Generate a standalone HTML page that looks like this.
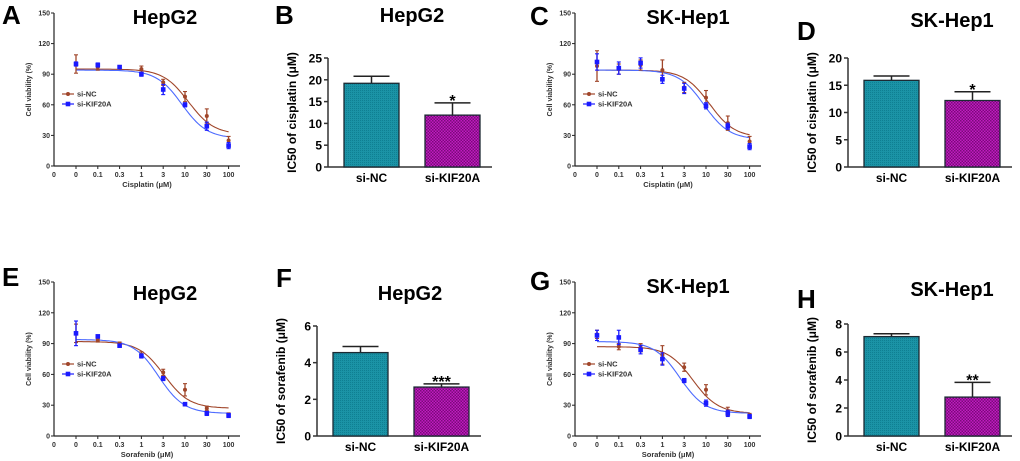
<!DOCTYPE html>
<html><head><meta charset="utf-8"><style>
html,body{margin:0;padding:0;background:#fff;}
svg{display:block;font-family:"Liberation Sans",Arial,sans-serif;}
</style></head><body>
<svg id="fig" width="1020" height="461" viewBox="0 0 1020 461" xmlns="http://www.w3.org/2000/svg">
<defs>
<pattern id="pTeal" width="2" height="2" patternUnits="userSpaceOnUse"><rect width="2" height="2" fill="#1b93a6"/><rect width="1" height="1" fill="#0f7f92"/></pattern>
<pattern id="pMag" width="3" height="3" patternUnits="userSpaceOnUse"><rect width="3" height="3" fill="#c01cc0"/><rect width="1.5" height="1.5" fill="#7a0a7a"/><rect x="1.5" y="1.5" width="1.5" height="1.5" fill="#7a0a7a"/></pattern>
</defs>
</svg>
<script>
// ---- data ----
const concLabels = ["0","0.1","0.3","1","3","10","30","100"];
const concValues = [0,0.1,0.3,1,3,10,30,100];
const viabTicks = [0,30,60,90,120,150];
const groups = ["si-NC","si-KIF20A"];

const A_nc = [100,97,97,95,82,68,49,25];
const A_nc_err = [9,3,1.5,3,3,5,7,4];
const A_kif = [100,99,97,90,75,60,39,20];
const A_kif_err = [2,2,1.5,2,5,2,4,3];
const A_fitNC = [95,31,12];   // top, bottom, IC50
const A_fitKIF = [94,27,8.5];

const C_nc = [98,95,99,94,77,67,42,24];
const C_nc_err = [15,5,5,10,5,7,7,5];
const C_kif = [102,96,101,85,76,59,39,19];
const C_kif_err = [8,6,5,4,5,3,3,3];
const C_fitNC = [94,28,12];
const C_fitKIF = [94,26,9];

const E_nc = [100,93,90,79,62,45,27,21];
const E_nc_err = [9,1.5,1.5,3,3,6,2,1.5];
const E_kif = [100,97,88,78,56,31,22,20];
const E_kif_err = [12,1.5,1.5,2,2,1.5,2,2];
const E_fitNC = [92,27,3.3];
const E_fitKIF = [94,22,2.5];

const G_nc = [99,87,86,79,67,45,24,20];
const G_nc_err = [4,3,4,9,4,5,4,2];
const G_kif = [98,96,84,75,54,32,22,19];
const G_kif_err = [5,7,4,6,2,3,3,2];
const G_fitNC = [87,22,5];
const G_fitKIF = [92,22,2.5];

const B_vals = [19.2,11.9]; const B_err = [1.6,2.8]; const B_ticks = [0,5,10,15,20,25]; const B_sig = "*";
const D_vals = [15.9,12.2]; const D_err = [0.8,1.6]; const D_ticks = [0,5,10,15,20]; const D_sig = "*";
const F_vals = [4.55,2.67]; const F_err = [0.33,0.17]; const F_ticks = [0,2,4,6]; const F_sig = "***";
const H_vals = [7.1,2.78]; const H_err = [0.2,1.05]; const H_ticks = [0,2,4,6,8]; const H_sig = "**";

const svg = document.getElementById('fig');
const NS = "http://www.w3.org/2000/svg";
function mk(tag, attrs, parent){
  const e = document.createElementNS(NS, tag);
  for (const k in attrs) e.setAttribute(k, attrs[k]);
  (parent||svg).appendChild(e);
  return e;
}
function txt(x,y,s,size,opts,parent){
  const o = Object.assign({x:x,y:y,'font-size':size,'font-weight':'bold',fill:'#000','text-anchor':'middle'},opts||{});
  const t = mk('text',o,parent); t.textContent = s; return t;
}

function curvePanel(p){
  const g = mk('g',{});
  
  
  const x0 = p.ax, yTop = p.top, yBot = p.bot;
  const step = 21.8;
  const firstX = x0 + 22;
  function xs(c){ const l = c<=0 ? -1.5 : Math.log10(c); return firstX + (l+1.5)*2*step; }
  function xi(i){ return firstX + i*step; }
  function ys(v){ return yBot - (v/150)*(yBot-yTop); }
  const endX = x0 + 186;
  const ya = mk('line',{x1:x0,y1:yTop,x2:x0,y2:yBot,stroke:'#222','stroke-width':1.2},g);
  
  
  const xa = mk('line',{x1:x0,y1:yBot,x2:endX,y2:yBot,stroke:'#222','stroke-width':1.2},g);
  
  
  viabTicks.forEach(v=>{
    mk('line',{x1:x0-3,y1:ys(v),x2:x0,y2:ys(v),stroke:'#222','stroke-width':1},g);
    const t = txt(x0-4,ys(v)+2.5,String(v),7,{'text-anchor':'end',fill:'#333'},g);
    
    
  });
  const t0 = txt(x0,yBot+11,"0",7,{fill:'#333'},g);
  
  
  concLabels.forEach((l,i)=>{
    mk('line',{x1:xi(i),y1:yBot,x2:xi(i),y2:yBot+3,stroke:'#222','stroke-width':1},g);
    const t = txt(xi(i),yBot+11,l,7,{fill:'#333'},g);
    
    
  });
  const xl = txt((x0+endX)/2,yBot+21,p.xlabel,7.5,{fill:'#333'},g);
  
  
  const yl = txt(0,0,"Cell viability (%)",7,{fill:'#333',transform:`translate(${x0-23},${(yTop+yBot)/2}) rotate(-90)`},g);
  
  
  const title = txt(p.tx,p.ty,p.title,20,{},g);
  
  
  const letter = txt(p.lx,p.ly,p.letter,26,{'text-anchor':'start'},g);
  
  
  const series = [
    {vals:p.nc, err:p.ncErr, fit:p.fitNC, col:'#a0462a', line:'#a0462a', name:'si-nc'},
    {vals:p.kif, err:p.kifErr, fit:p.fitKIF, col:'#1a1aff', line:'#4d6bff', name:'si-kif20a'}
  ];
  series.forEach(s=>{
    const pts=[];
    for(let k=0;k<=80;k++){
      const l = -1.5 + k*(3.5/80); const c = Math.pow(10,l);
      const v = s.fit[1] + (s.fit[0]-s.fit[1])/(1+Math.pow(c/s.fit[2],1.5));
      pts.push(xs(c).toFixed(1)+','+ys(v).toFixed(1));
    }
    const pl = mk('polyline',{points:pts.join(' '),fill:'none',stroke:s.line,'stroke-width':1.1},g);
    
    
  });
  series.forEach(s=>{
    s.vals.forEach((v,i)=>{
      const x = xi(i), e = s.err[i];
      mk('line',{x1:x,y1:ys(v+e),x2:x,y2:ys(v-e),stroke:s.col,'stroke-width':1.3},g);
      mk('line',{x1:x-2,y1:ys(v+e),x2:x+2,y2:ys(v+e),stroke:s.col,'stroke-width':1.1},g);
      mk('line',{x1:x-2,y1:ys(v-e),x2:x+2,y2:ys(v-e),stroke:s.col,'stroke-width':1.1},g);
      const pt = s.name==='si-nc' ? mk('circle',{cx:x,cy:ys(v),r:2,fill:s.col},g)
                                   : mk('rect',{x:x-2.3,y:ys(v)-2.3,width:4.6,height:4.6,fill:s.col},g);
      
      
    });
  });
  series.forEach((s,i)=>{
    const ly = p.legY + i*10;
    const lg = mk('g',{},g);
    
    
    mk('line',{x1:x0+8,y1:ly,x2:x0+20,y2:ly,stroke:s.col,'stroke-width':1.2},lg);
    if(i===0) mk('circle',{cx:x0+14,cy:ly,r:2,fill:s.col},lg);
    else mk('rect',{x:x0+11.7,y:ly-2.3,width:4.6,height:4.6,fill:s.col},lg);
    txt(x0+23,ly+2.5,groups[i],7.5,{'text-anchor':'start',fill:'#333'},lg);
  });
}

function barPanel(p){
  const g = mk('g',{});
  
  
  const x0=p.ax, yTop=p.top, yBot=p.bot, max=p.ticks[p.ticks.length-1];
  function ys(v){ return yBot - (v/max)*(yBot-yTop); }
  const endX = x0+164;
  const ya = mk('line',{x1:x0,y1:yTop,x2:x0,y2:yBot,stroke:'#333','stroke-width':1.5},g);
  
  
  const xa = mk('line',{x1:x0,y1:yBot,x2:endX,y2:yBot,stroke:'#333','stroke-width':1.5},g);
  
  
  p.ticks.forEach(v=>{
    mk('line',{x1:x0-4,y1:ys(v),x2:x0,y2:ys(v),stroke:'#333','stroke-width':1.5},g);
    const t = txt(x0-6,ys(v)+4.5,String(v),12,{'text-anchor':'end'},g);
    
    
  });
  const yl = txt(0,0,p.ylabel,12,{transform:`translate(${x0-32},${(yTop+yBot)/2}) rotate(-90)`},g);
  
  
  const title = txt(p.tx,p.ty,p.title,20,{},g);
  
  
  const letter = txt(p.lx,p.ly,p.letter,26,{'text-anchor':'start'},g);
  
  
  const fills=['url(#pTeal)','url(#pMag)'];
  p.vals.forEach((v,i)=>{
    const bx = x0+16+i*81, bw=55, cx=bx+bw/2;
    const top = ys(v), et = ys(v+p.err[i]);
    mk('line',{x1:cx,y1:et,x2:cx,y2:top,stroke:'#222','stroke-width':1.5},g);
    mk('line',{x1:cx,y1:et,x2:cx+18,y2:et,stroke:'#222','stroke-width':1.5},g);
    mk('line',{x1:cx,y1:et,x2:cx-18,y2:et,stroke:'#222','stroke-width':1.5},g);
    const b = mk('rect',{x:bx,y:top,width:bw,height:yBot-top,fill:fills[i],stroke:'#1c2a33','stroke-width':1.3},g);
    
    
    const xl = txt(cx,yBot+15,groups[i],12,{},g);
    
    
    if(i===1){
      const s = txt(cx,et+3,p.sig,16,{},g);
      
      
    }
  });
}

curvePanel({name:'panel-a-chart',ax:54,top:13,bot:166,xlabel:'Cisplatin (\u03bcM)',title:'HepG2',tx:165,ty:24,letter:'A',lx:2,ly:24,legY:94,
  nc:A_nc,ncErr:A_nc_err,kif:A_kif,kifErr:A_kif_err,fitNC:A_fitNC,fitKIF:A_fitKIF});
curvePanel({name:'panel-c-chart',ax:575,top:13,bot:166,xlabel:'Cisplatin (\u03bcM)',title:'SK-Hep1',tx:688,ty:24,letter:'C',lx:530,ly:25,legY:94,
  nc:C_nc,ncErr:C_nc_err,kif:C_kif,kifErr:C_kif_err,fitNC:C_fitNC,fitKIF:C_fitKIF});
curvePanel({name:'panel-e-chart',ax:54,top:282,bot:436,xlabel:'Sorafenib (\u03bcM)',title:'HepG2',tx:165,ty:300,letter:'E',lx:2,ly:286,legY:364,
  nc:E_nc,ncErr:E_nc_err,kif:E_kif,kifErr:E_kif_err,fitNC:E_fitNC,fitKIF:E_fitKIF});
curvePanel({name:'panel-g-chart',ax:575,top:282,bot:436,xlabel:'Sorafenib (\u03bcM)',title:'SK-Hep1',tx:688,ty:293,letter:'G',lx:530,ly:290,legY:364,
  nc:G_nc,ncErr:G_nc_err,kif:G_kif,kifErr:G_kif_err,fitNC:G_fitNC,fitKIF:G_fitKIF});

barPanel({name:'panel-b-chart',ax:328,top:58,bot:167,ticks:B_ticks,vals:B_vals,err:B_err,sig:B_sig,ylabel:'IC50 of cisplatin (\u03bcM)',title:'HepG2',tx:412,ty:22,letter:'B',lx:275,ly:24});
barPanel({name:'panel-d-chart',ax:848,top:58,bot:167,ticks:D_ticks,vals:D_vals,err:D_err,sig:D_sig,ylabel:'IC50 of cisplatin (\u03bcM)',title:'SK-Hep1',tx:952,ty:27,letter:'D',lx:797,ly:40});
barPanel({name:'panel-f-chart',ax:317,top:326,bot:436,ticks:F_ticks,vals:F_vals,err:F_err,sig:F_sig,ylabel:'IC50 of sorafenib (\u03bcM)',title:'HepG2',tx:410,ty:300,letter:'F',lx:276,ly:287});
barPanel({name:'panel-h-chart',ax:848,top:324,bot:436,ticks:H_ticks,vals:H_vals,err:H_err,sig:H_sig,ylabel:'IC50 of sorafenib (\u03bcM)',title:'SK-Hep1',tx:952,ty:296,letter:'H',lx:797,ly:308});
</script>
</body></html>
